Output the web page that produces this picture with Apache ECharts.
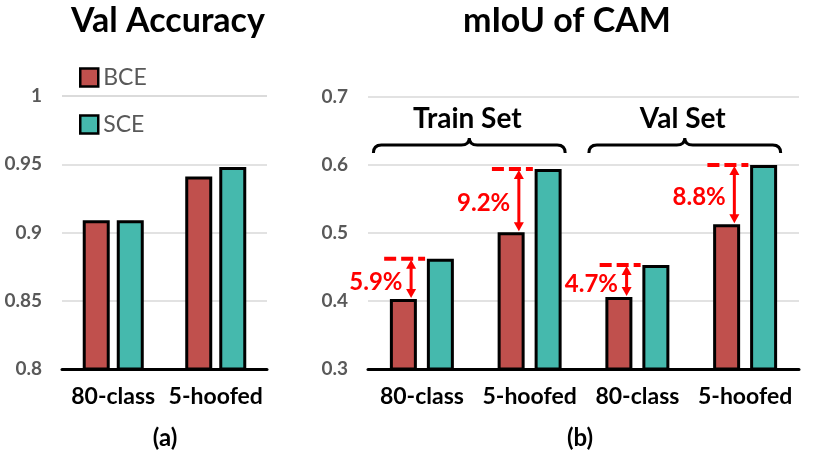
<!DOCTYPE html>
<html>
<head>
<meta charset="utf-8">
<script src="https://cdn.jsdelivr.net/npm/echarts@6/dist/echarts.min.js"></script>
<style>
  html, body { margin: 0; padding: 0; background: #fff; }
  #chart { width: 813px; height: 452px; }
</style>
</head>
<body>
<div id="chart"></div>
<script>
// (a) val accuracy
var accCats = ['80-class', '5-hoofed'];
var accBCE = [0.909, 0.941];
var accSCE = [0.909, 0.948];
var accTicks = [0.8, 0.85, 0.9, 0.95, 1];

// (b) mIoU of CAM
var camCats = ['80-class', '5-hoofed', '80-class', '5-hoofed'];
var camBCE = [0.403, 0.501, 0.406, 0.513];
var camSCE = [0.462, 0.594, 0.453, 0.600];
var camTicks = [0.3, 0.4, 0.5, 0.6, 0.7];
var gapLabels = ['5.9%', '9.2%', '4.7%', '8.8%'];
var setNames = ['Train Set', 'Val Set'];
var setRanges = [[0, 1], [2, 3]];

var FONT = 'Lato, "Open Sans", sans-serif';
var RED = '#FF0000';

function yAxisOf(ticks, gridIndex) {
    return {
        type: 'value',
        gridIndex: gridIndex,
        min: ticks[0],
        max: ticks[ticks.length - 1],
        interval: ticks[1] - ticks[0],
        axisLine: { show: false },
        axisTick: { show: false },
        splitLine: { lineStyle: { color: '#D9D9D9', width: 1.5 } },
        axisLabel: {
            margin: 20,
            color: '#595959',
            fontSize: 19,
            fontWeight: 'bold',
            fontFamily: FONT,
            formatter: function (v) { return String(+v.toFixed(2)); }
        }
    };
}

function xAxisOf(cats, gridIndex) {
    return {
        type: 'category',
        gridIndex: gridIndex,
        data: cats,
        axisTick: { show: false },
        axisLine: { lineStyle: { color: '#000', width: 3 } },
        axisLabel: {
            interval: 0,
            margin: 16,
            color: '#000',
            fontSize: 23,
            fontWeight: 'bold',
            fontFamily: FONT
        }
    };
}

function barSeries(name, data, color, gridIndex, gap) {
    return {
        name: name,
        type: 'bar',
        xAxisIndex: gridIndex,
        yAxisIndex: gridIndex,
        barWidth: 27,
        barGap: gap,
        data: data,
        itemStyle: { color: color, borderColor: '#000', borderWidth: 3 }
    };
}

// red dashed line + double arrow + percentage between BCE and SCE tops
function renderGap(params, api) {
    var cat = api.value(0);
    var band = api.size([1, 0])[0];
    var cx = api.coord([cat, api.value(1)])[0];
    var yLo = api.coord([cat, api.value(1)])[1];
    var yHi = api.coord([cat, api.value(2)])[1];
    var ax = cx - 0.1 * band;
    var head = 10, hw = 5;
    return {
        type: 'group',
        children: [
            {
                type: 'line',
                shape: { x1: cx - 0.35 * band, y1: yHi, x2: cx + 0.03 * band, y2: yHi },
                style: { stroke: RED, lineWidth: 4, lineDash: [12, 5] }
            },
            {
                type: 'line',
                shape: { x1: ax, y1: yHi + head - 2, x2: ax, y2: yLo - head + 2 },
                style: { stroke: RED, lineWidth: 3 }
            },
            {
                type: 'polygon',
                shape: { points: [[ax, yHi + 1], [ax - hw, yHi + head], [ax + hw, yHi + head]] },
                style: { fill: RED }
            },
            {
                type: 'polygon',
                shape: { points: [[ax, yLo - 1], [ax - hw, yLo - head], [ax + hw, yLo - head]] },
                style: { fill: RED }
            },
            {
                type: 'text',
                style: {
                    text: gapLabels[params.dataIndex],
                    x: cx - 0.18 * band,
                    y: (yLo + yHi) / 2 + 3,
                    align: 'right',
                    verticalAlign: 'middle',
                    fill: RED,
                    font: 'bold 24px ' + FONT
                }
            }
        ]
    };
}

// curly brace over a pair of categories
function renderBrace(params, api) {
    var band = api.size([1, 0])[0];
    var top = api.coord([0, camTicks[camTicks.length - 1]])[1];
    var x0 = api.coord([api.value(0), camTicks[0]])[0] - 0.45 * band;
    var x1 = api.coord([api.value(1), camTicks[0]])[0] + 0.33 * band;
    var xm = (x0 + x1) / 2;
    var yh = top + 48, yb = yh + 8, yt = yh - 7, r = 8;
    var d = 'M' + x0 + ',' + yb +
        ' Q' + x0 + ',' + yh + ' ' + (x0 + r) + ',' + yh +
        ' L' + (xm - r) + ',' + yh +
        ' Q' + xm + ',' + yh + ' ' + xm + ',' + yt +
        ' Q' + xm + ',' + yh + ' ' + (xm + r) + ',' + yh +
        ' L' + (x1 - r) + ',' + yh +
        ' Q' + x1 + ',' + yh + ' ' + x1 + ',' + yb;
    return {
        type: 'group',
        children: [
            {
                type: 'path',
                shape: { pathData: d },
                style: { stroke: '#000', lineWidth: 3, fill: null }
            },
            {
                type: 'text',
                style: {
                    text: setNames[params.dataIndex],
                    x: xm - 2,
                    y: yh - 26,
                    align: 'center',
                    verticalAlign: 'middle',
                    fill: '#000',
                    font: 'bold 28px ' + FONT
                }
            }
        ]
    };
}

var myChart = echarts.init(document.getElementById('chart'));
var option = {
    backgroundColor: '#FFFFFF',
    animation: false,
    textStyle: { fontFamily: FONT },
    graphic: [
        { type: 'text', x: 168, y: 21, style: { text: 'Val Accuracy', align: 'center', verticalAlign: 'middle', font: 'bold 34px ' + FONT, fill: '#000' } },
        { type: 'text', x: 567, y: 21, style: { text: 'mIoU of CAM', align: 'center', verticalAlign: 'middle', font: 'bold 34px ' + FONT, fill: '#000' } },
        { type: 'text', x: 165, y: 438, style: { text: '(a)', align: 'center', verticalAlign: 'middle', font: 'bold 24px ' + FONT, fill: '#000' } },
        { type: 'text', x: 580, y: 438, style: { text: '(b)', align: 'center', verticalAlign: 'middle', font: 'bold 24px ' + FONT, fill: '#000' } }
    ],
    legend: {
        data: ['BCE', 'SCE'],
        orient: 'vertical',
        left: 74,
        top: 61,
        icon: 'rect',
        itemWidth: 18,
        itemHeight: 18,
        itemGap: 24,
        itemStyle: { borderColor: '#000', borderWidth: 2.5 },
        textStyle: { color: '#595959', fontSize: 23, lineHeight: 18, fontFamily: FONT }
    },
    grid: [
        { left: 62, width: 205, top: 96, bottom: 83 },
        { left: 368, width: 431, top: 97, bottom: 83 }
    ],
    xAxis: [xAxisOf(accCats, 0), xAxisOf(camCats, 1)],
    yAxis: [yAxisOf(accTicks, 0), yAxisOf(camTicks, 1)],
    series: [
        barSeries('BCE', accBCE, '#C0504D', 0, '26%'),
        barSeries('SCE', accSCE, '#45B9AD', 0, '26%'),
        barSeries('BCE', camBCE, '#C0504D', 1, '37%'),
        barSeries('SCE', camSCE, '#45B9AD', 1, '37%'),
        {
            type: 'custom',
            xAxisIndex: 1,
            yAxisIndex: 1,
            z: 5,
            renderItem: renderGap,
            encode: { x: 0, y: [1, 2] },
            data: camBCE.map(function (v, i) { return [i, v, camSCE[i]]; })
        },
        {
            type: 'custom',
            xAxisIndex: 1,
            yAxisIndex: 1,
            z: 5,
            renderItem: renderBrace,
            encode: { x: [0, 1] },
            data: setRanges
        }
    ]
};
myChart.setOption(option);
</script>
</body>
</html>
